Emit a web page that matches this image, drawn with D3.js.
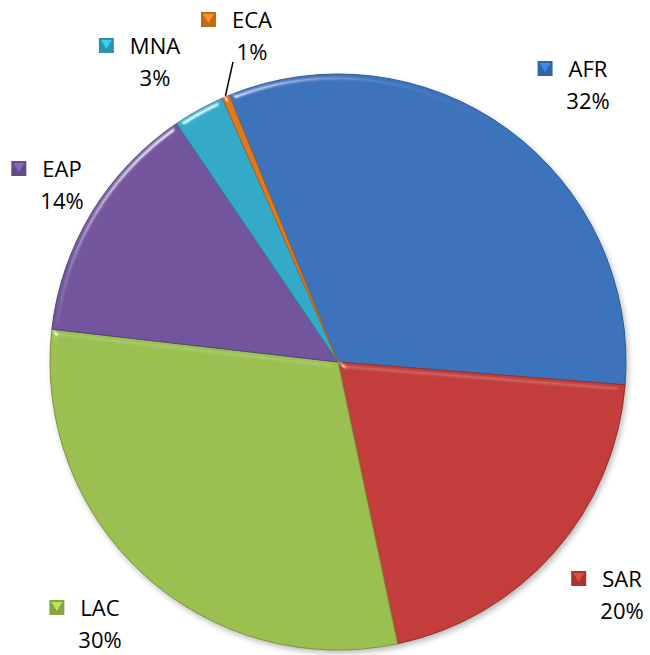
<!DOCTYPE html>
<html>
<head>
<meta charset="utf-8">
<script src="https://cdn.jsdelivr.net/npm/d3@7"></script>
<style>
  body { margin: 0; background: #fff; }
  text { font-family: "Open Sans", "Noto Sans", sans-serif; font-size: 22px; fill: #000; }
</style>
</head>
<body>
<svg id="viz"></svg>
<script>
const svg = d3.select("#viz");
const width = 650;
const height = 655;
svg.attr("width", width).attr("height", height);

// data, in drawing order (clockwise)
const regions = ["AFR", "SAR", "LAC", "EAP", "MNA", "ECA"];
const shares = [32.4, 20.4, 30.1, 13.7, 2.9, 0.4];
const shareLabels = ["32%", "20%", "30%", "14%", "3%", "1%"];

const colors = {
  AFR: "#3b73bc",
  SAR: "#c23d3a",
  LAC: "#9bc050",
  EAP: "#72559d",
  MNA: "#33aac8",
  ECA: "#e07a20"
};

// label anchor (centre of the name text, baseline of name)
const labelPos = {
  AFR: [588, 77],
  SAR: [622, 587],
  LAC: [100, 616],
  EAP: [62, 177],
  MNA: [155, 54],
  ECA: [252, 28]
};

const cx = 338, cy = 362, r = 288;
const startAngle = -22.2 * Math.PI / 180;

const data = regions.map((name, i) => ({ name, value: shares[i], label: shareLabels[i] }));

const pie = d3.pie().sort(null).value(d => d.value)
  .startAngle(startAngle).endAngle(startAngle + 2 * Math.PI);
const arc = d3.arc().innerRadius(0).outerRadius(r);

const defs = svg.append("defs");

// bevel look: highlight only on the edges
const bevel = defs.append("filter").attr("id", "bevel")
  .attr("x", "-10%").attr("y", "-10%").attr("width", "120%").attr("height", "120%");
bevel.append("feGaussianBlur").attr("in", "SourceAlpha").attr("stdDeviation", 3).attr("result", "blur");
bevel.append("feSpecularLighting").attr("in", "blur").attr("surfaceScale", 5)
  .attr("specularConstant", 1).attr("specularExponent", 40)
  .attr("lighting-color", "#ffffff").attr("result", "spec")
  .append("feDistantLight").attr("azimuth", 235).attr("elevation", 30);
bevel.append("feComposite").attr("in", "spec").attr("in2", "SourceAlpha")
  .attr("operator", "in").attr("result", "specOut");
bevel.append("feComposite").attr("in", "SourceGraphic").attr("in2", "specOut")
  .attr("operator", "arithmetic").attr("k1", 0).attr("k2", 1).attr("k3", 0.6).attr("k4", 0);

const shadow = defs.append("filter").attr("id", "shadow")
  .attr("x", "-10%").attr("y", "-10%").attr("width", "120%").attr("height", "120%");
shadow.append("feGaussianBlur").attr("in", "SourceAlpha").attr("stdDeviation", 3);
shadow.append("feOffset").attr("dx", 2).attr("dy", 3).attr("result", "off");
shadow.append("feComponentTransfer").append("feFuncA").attr("type", "linear").attr("slope", 0.3);

const g = svg.append("g").attr("transform", `translate(${cx},${cy})`);

g.append("circle").attr("r", r).attr("fill", "#000").attr("filter", "url(#shadow)");

g.selectAll("path.slice")
  .data(pie(data))
  .join("path")
  .attr("class", "slice")
  .attr("d", arc)
  .attr("fill", d => colors[d.data.name])
  .attr("stroke", d => d3.color(colors[d.data.name]).darker(0.7))
  .attr("stroke-width", 1)
  .attr("filter", "url(#bevel)");

// leader line for ECA
const eca = pie(data).find(d => d.data.name === "ECA");
const midA = (eca.startAngle + eca.endAngle) / 2;
svg.append("line")
  .attr("x1", 233).attr("y1", 62)
  .attr("x2", cx + Math.sin(midA) * (r + 1))
  .attr("y2", cy - Math.cos(midA) * (r + 1))
  .attr("stroke", "#000").attr("stroke-width", 1.5);

// data labels with legend keys
data.forEach(d => {
  const [x, y] = labelPos[d.name];
  const lab = svg.append("g");
  const name = lab.append("text")
    .attr("x", x).attr("y", y)
    .attr("text-anchor", "middle")
    .text(d.name);
  lab.append("text")
    .attr("x", x).attr("y", y + 32)
    .attr("text-anchor", "middle")
    .text(d.label);
  const w = name.node().getComputedTextLength();
  const kx = x - w / 2 - 31, ky = y - 16, ks = 15;
  const c = colors[d.name];
  lab.append("rect").attr("x", kx).attr("y", ky).attr("width", ks).attr("height", ks)
    .attr("fill", d3.color(c).darker(0.4));
  lab.append("path")
    .attr("d", `M${kx + 2},${ky + 2}L${kx + ks - 2},${ky + 2}L${kx + ks / 2},${ky + ks - 4}Z`)
    .attr("fill", d3.color(c).brighter(0.5));
});
</script>
</body>
</html>
